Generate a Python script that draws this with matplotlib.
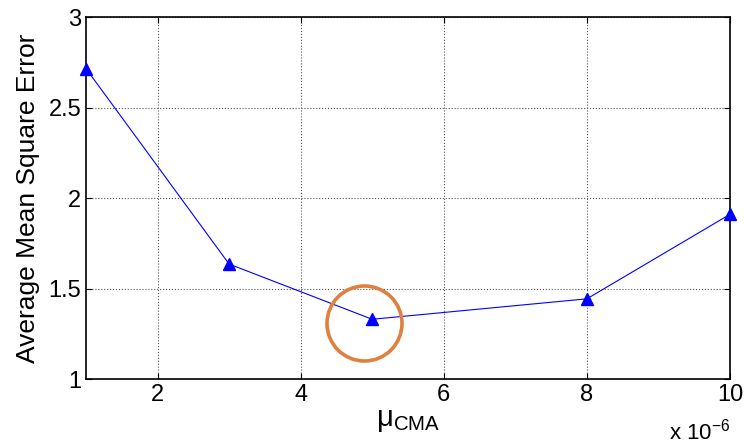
import numpy as np
import matplotlib
matplotlib.use('Agg')
import matplotlib.pyplot as plt

plt.rcParams['font.family'] = ['Liberation Sans', 'DejaVu Sans']

# step size (x 1e-6) and averaged MSE
mu = [1, 3, 5, 8, 10]
mse = [2.715, 1.635, 1.33, 1.443, 1.91]

# highlighted point
circ_x = [4.89]
circ_y = [1.311]

fig = plt.figure(figsize=(7.44, 4.48), dpi=100)
ax = fig.add_axes([0.1156, 0.154, 0.8656, 0.808])

ax.plot(mu, mse, color='blue', linewidth=0.8, marker='^', markersize=8,
        markerfacecolor='blue', markeredgecolor='blue', clip_on=False, zorder=3)
ax.plot(circ_x, circ_y, marker='o', markersize=54, markerfacecolor='none',
        markeredgecolor='#e07f3e', markeredgewidth=2.6, linestyle='none', zorder=4)

ax.set_xlim(1, 10)
ax.set_ylim(1, 3)
ax.set_xticks([2, 4, 6, 8, 10])
ax.set_yticks([1, 1.5, 2, 2.5, 3])
ax.set_yticklabels(['1', '1.5', '2', '2.5', '3'])
ax.grid(True, color='#555555', linestyle=':', linewidth=0.8)
ax.tick_params(direction='in', top=True, right=True, labelsize=17, length=4)
for s in ax.spines.values():
    s.set_linewidth(1.2)

ax.set_ylabel('Average Mean Square Error', fontsize=19, labelpad=6)
ax.set_xlabel(r'$\mathregular{\mu_{CMA}}$', fontsize=21, labelpad=0)
ax.text(1.0, -0.11, r'x 10$^{\mathregular{-6}}$', transform=ax.transAxes,
        ha='right', va='top', fontsize=16)

fig.savefig('out.png', dpi=100)
